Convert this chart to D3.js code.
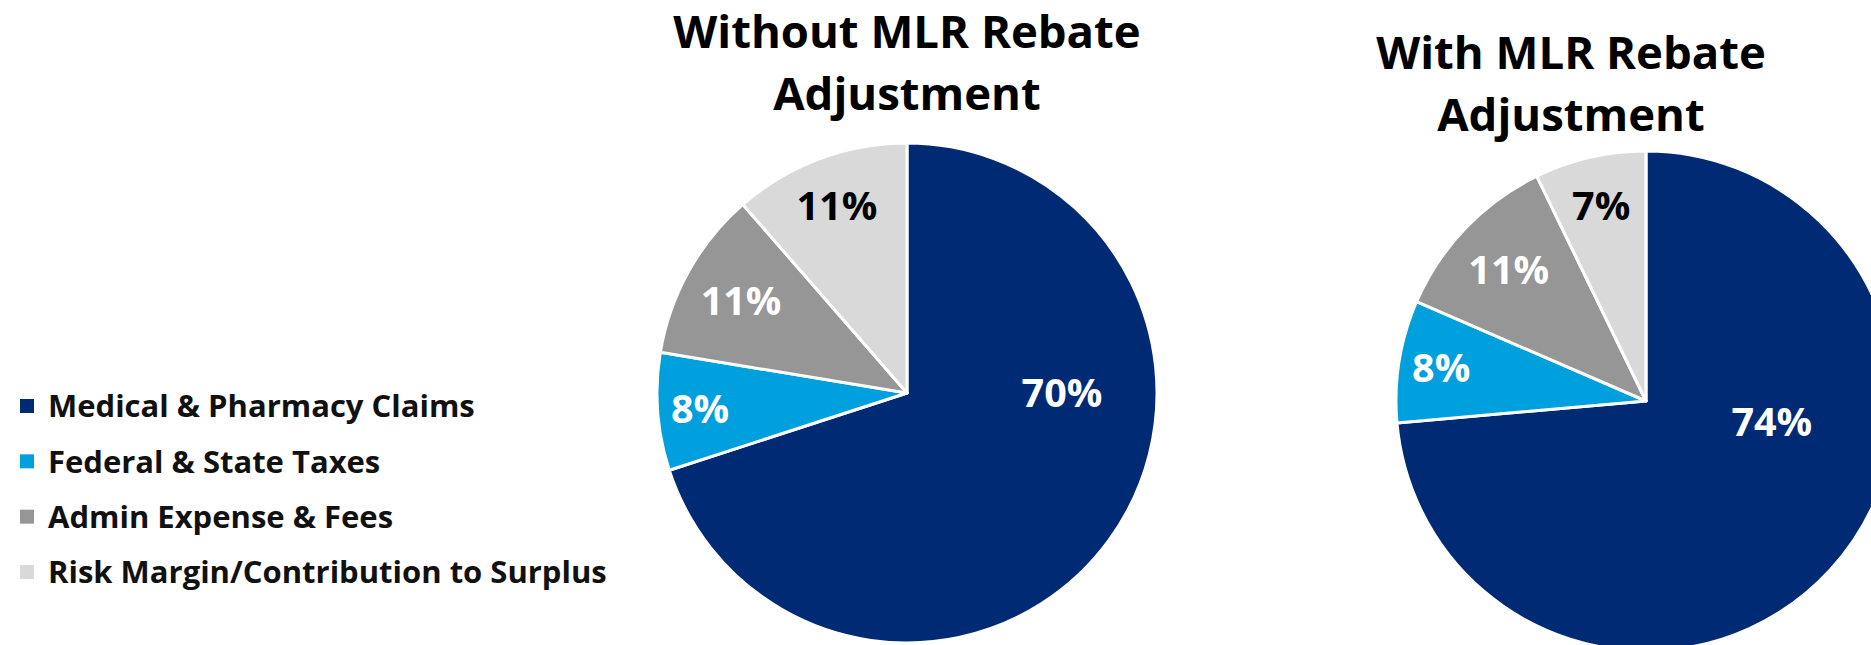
<!DOCTYPE html>
<html>
<head>
<meta charset="utf-8">
<script src="https://cdn.jsdelivr.net/npm/d3@7"></script>
<style>
  html, body { margin: 0; padding: 0; background: #ffffff; overflow: hidden; }
  svg { display: block; font-family: "Open Sans", "Noto Sans", sans-serif; font-weight: 700; }
</style>
</head>
<body>
<svg id="chart" width="1871" height="645"></svg>
<script>
// ---- data ----
const categories = [
  "Medical & Pharmacy Claims",
  "Federal & State Taxes",
  "Admin Expense & Fees",
  "Risk Margin/Contribution to Surplus"
];
const colors = ["#002b74", "#00a0df", "#969696", "#d9d9d9"];
const labelColors = ["#ffffff", "#ffffff", "#ffffff", "#000000"];
const withoutRebateValues = [70.0, 7.6, 11.0, 11.4];
const withRebateValues = [73.6, 7.9, 11.3, 7.2];
const titles = [
  ["Without MLR Rebate", "Adjustment"],
  ["With MLR Rebate", "Adjustment"]
];

// ---- layout ----
const svg = d3.select("#chart");
const labelRadiusFrac = [null, 0.83, 0.76, 0.80];

const pies = [
  { values: withoutRebateValues, title: titles[0], cx: 907, cy: 393, r: 250,
    titleX: 907, titleY: 48, bigAngleFrac: 0.357, bigRadiusFrac: 0.62 },
  { values: withRebateValues, title: titles[1], cx: 1646, cy: 401, r: 250,
    titleX: 1571, titleY: 69, bigAngleFrac: 0.375, bigRadiusFrac: 0.51 }
];

const pieGen = d3.pie().sort(null).value(d => d).startAngle(0).endAngle(2 * Math.PI);

pies.forEach(p => {
  const g = svg.append("g").attr("transform", `translate(${p.cx},${p.cy})`);
  const arcs = pieGen(p.values);
  const arc = d3.arc().innerRadius(0).outerRadius(p.r);

  g.selectAll("path.slice")
    .data(arcs)
    .join("path")
    .attr("class", "slice")
    .attr("d", arc)
    .attr("fill", (d, i) => colors[i])
    .attr("stroke", "#ffffff")
    .attr("stroke-width", 3)
    .attr("stroke-linejoin", "round");

  const pt = (d, i) => {
    let a, rf;
    if (i === 0) {
      a = d.startAngle + p.bigAngleFrac * (d.endAngle - d.startAngle);
      rf = p.bigRadiusFrac;
    } else {
      a = (d.startAngle + d.endAngle) / 2;
      rf = labelRadiusFrac[i];
    }
    const R = rf * p.r;
    return d3.arc().innerRadius(R).outerRadius(R).startAngle(a).endAngle(a).centroid();
  };

  g.selectAll("text.lbl")
    .data(arcs)
    .join("text")
    .attr("class", "lbl")
    .attr("x", (d, i) => pt(d, i)[0])
    .attr("y", (d, i) => pt(d, i)[1])
    .attr("dy", "0.36em")
    .attr("text-anchor", "middle")
    .attr("font-size", 39.5)
    .attr("fill", (d, i) => labelColors[i])
    .text(d => Math.round(d.data) + "%");

  const t = svg.append("text")
    .attr("x", p.titleX)
    .attr("y", p.titleY)
    .attr("text-anchor", "middle")
    .attr("font-size", 45.5)
    .attr("fill", "#000000");
  p.title.forEach((line, k) => {
    t.append("tspan").attr("x", p.titleX).attr("dy", k === 0 ? 0 : 62).text(line);
  });
});

// ---- legend ----
const legendY = d3.scalePoint().domain(categories).range([406, 572]);
const leg = svg.append("g");
const items = leg.selectAll("g.item").data(categories).join("g")
  .attr("class", "item")
  .attr("transform", d => `translate(0,${legendY(d)})`);
items.append("rect")
  .attr("x", 20).attr("y", -7).attr("width", 14).attr("height", 14)
  .attr("fill", (d, i) => colors[i]);
items.append("text")
  .attr("x", 48).attr("y", 0).attr("dy", "0.36em")
  .attr("font-size", 31)
  .attr("fill", "#111111")
  .text(d => d);
</script>
</body>
</html>
